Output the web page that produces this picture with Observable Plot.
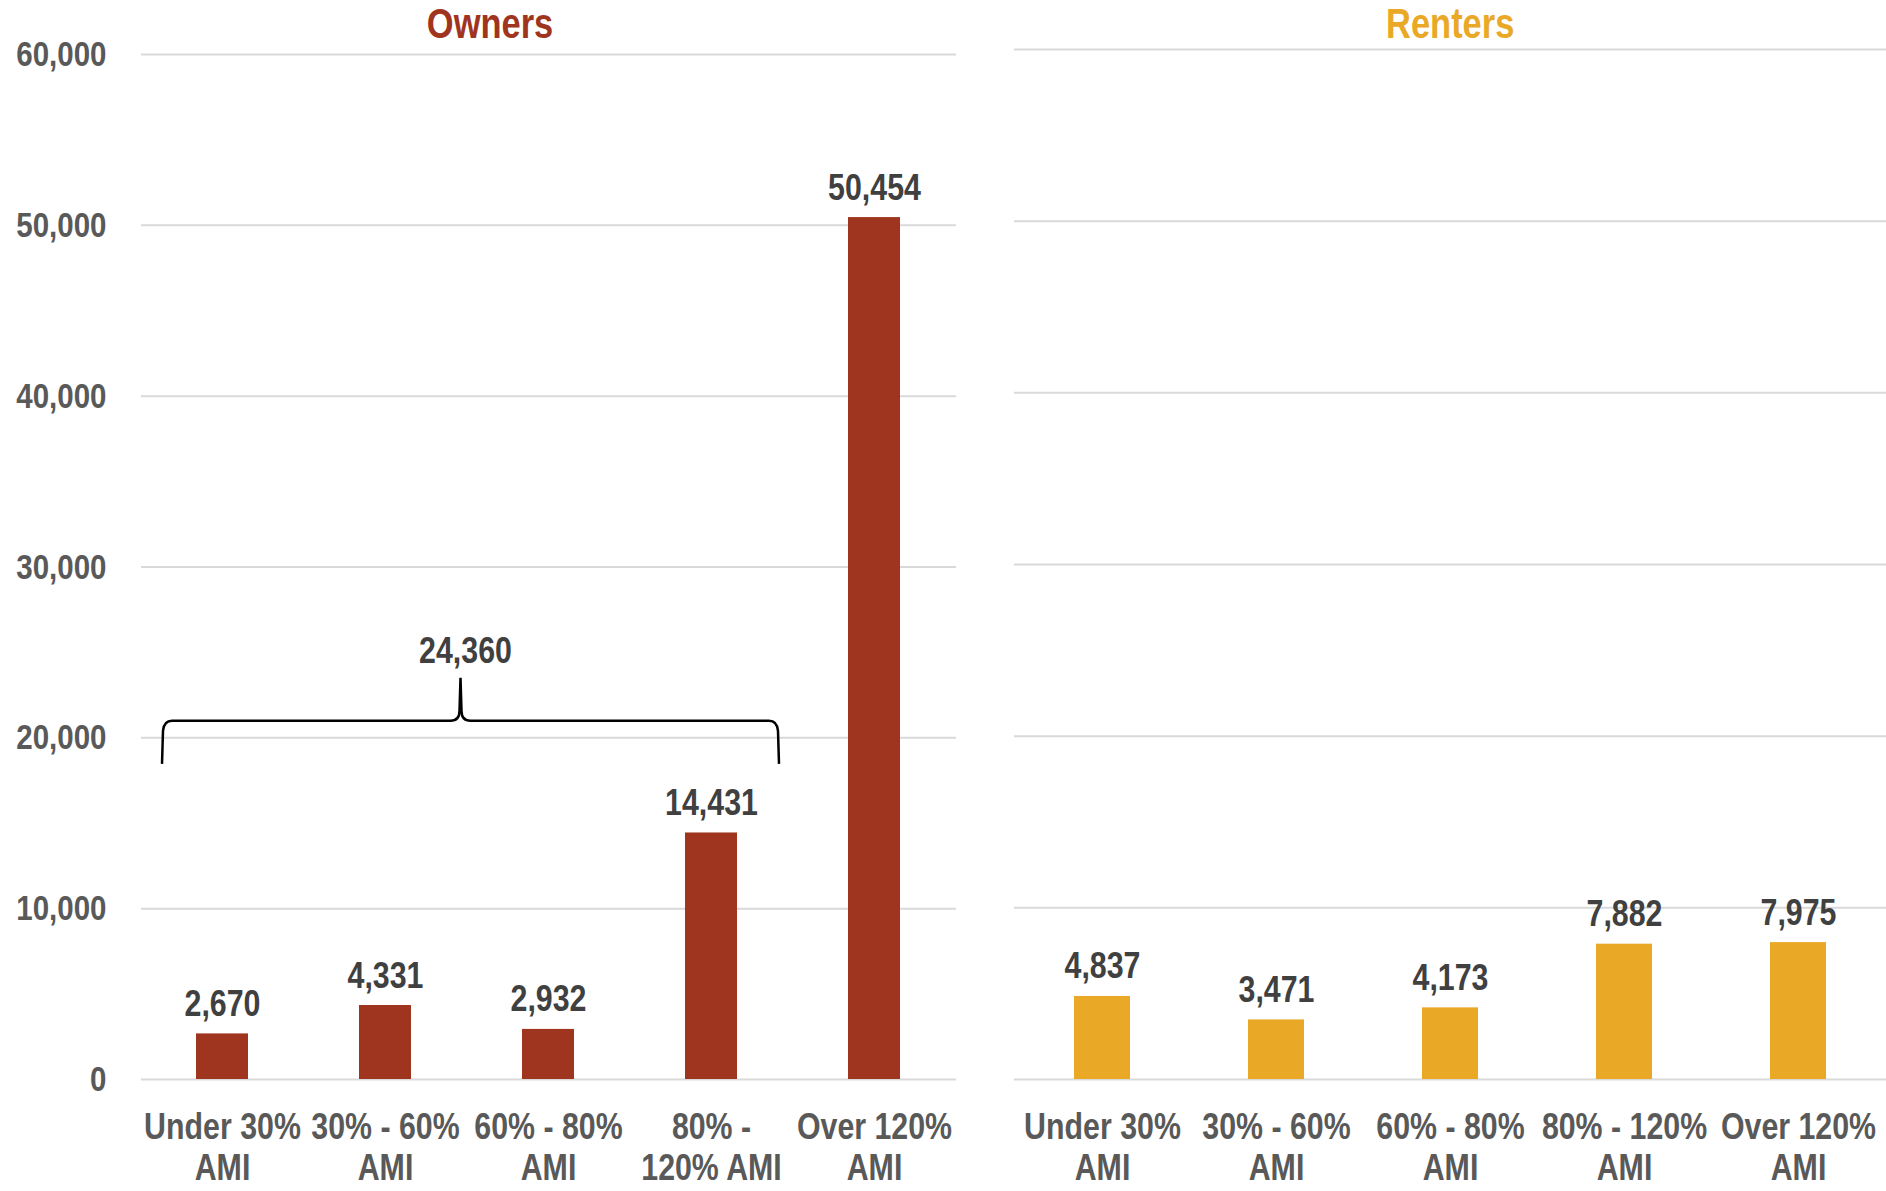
<!DOCTYPE html>
<html>
<head>
<meta charset="utf-8">
<script src="https://cdn.jsdelivr.net/npm/d3@7"></script>
<script src="https://cdn.jsdelivr.net/npm/@observablehq/plot@0.6"></script>
<style>
  html, body { margin: 0; padding: 0; background: #fff; }
  #wrap { position: relative; width: 1886px; height: 1191px; overflow: hidden;
          font-family: "Liberation Sans", Arial, sans-serif; font-weight: bold; }
  .panel { position: absolute; top: 0; }
  .title { position: absolute; top: 0; font-size: 42px; line-height: normal; text-align: center; font-weight: bold; }
  .title span { display: inline-block; transform: scaleX(0.82); transform-origin: center; }
</style>
</head>
<body>
<div id="wrap">
  <div id="owners" class="panel" style="left:0"></div>
  <div id="renters" class="panel" style="left:980px"></div>
  <div class="title" style="left:0;width:980px;color:#A0351F"><span>Owners</span></div>
  <div class="title" style="left:1014px;width:872px;color:#E9A825"><span>Renters</span></div>
</div>
<script>
const categories = ["Under 30% AMI", "30% - 60% AMI", "60% - 80% AMI", "80% - 120% AMI", "Over 120% AMI"];
const ownerValues = [2670, 4331, 2932, 14431, 50454];
const renterValues = [4837, 3471, 4173, 7882, 7975];
const ownerTickLabels = ["Under 30%\nAMI", "30% - 60%\nAMI", "60% - 80%\nAMI", "80% -\n120% AMI", "Over 120%\nAMI"];
const renterTickLabels = ["Under 30%\nAMI", "30% - 60%\nAMI", "60% - 80%\nAMI", "80% - 120%\nAMI", "Over 120%\nAMI"];
const yTicks = [0, 10000, 20000, 30000, 40000, 50000, 60000];
const braceFrom = "Under 30% AMI";
const braceTo = "80% - 120% AMI";
const braceTotal = 24360;

const FONT = '"Liberation Sans", Arial, sans-serif';
const NARROW = 0.82;
const fmt = d3.format(",");

// Emulate a narrow bold face: squeeze each text horizontally about its own anchor.
function narrowTexts(svg) {
  svg.querySelectorAll("text").forEach(t => {
    const xa = t.getAttribute("x");
    const x = xa ? parseFloat(xa) || 0 : 0;
    const tr = t.getAttribute("transform") || "";
    t.setAttribute("transform", `${tr} translate(${x},0) scale(${NARROW},1) translate(${-x},0)`);
  });
  return svg;
}

function makePanel({values, tickLabels, color, width, marginLeft, marginRight, marginTop, showY, brace}) {
  const data = categories.map((c, i) => ({category: c, value: values[i]}));
  const labelOf = new Map(categories.map((c, i) => [c, tickLabels[i]]));
  const marks = [
    Plot.gridY(yTicks, {stroke: "#d9d9d9", strokeOpacity: 1, strokeWidth: 2}),
    Plot.barY(data, {x: "category", y: "value", fill: color}),
    Plot.text(data, {x: "category", y: "value", text: d => fmt(d.value), lineAnchor: "bottom", dy: -18, fill: "#404040", fontSize: 37, fontWeight: "bold"}),
    Plot.axisX({tickSize: 0, tickPadding: 30, fontSize: 37, lineHeight: 1.12, tickFormat: d => labelOf.get(d), fill: "#595959"})
  ];
  if (showY) {
    marks.push(Plot.axisY(yTicks, {tickSize: 0, tickPadding: 35, fontSize: 36, tickFormat: fmt, fill: "#595959"}));
  }
  if (brace) {
    marks.push((index, scales) => {
      const x = scales.x, y = scales.y;
      const bw = typeof x.bandwidth === "function" ? x.bandwidth() : x.bandwidth;
      const xl = x(braceFrom) + bw / 2 - 60;
      const xr = x(braceTo) + bw / 2 + 68;
      const xm = (xl + xr) / 2 - 10;
      const yl = y(braceTotal);
      const yTip = yl + 15, yH = yl + 58, yEnd = yl + 101;
      const g = d3.create("svg:g");
      const r = 10;
      const path = [
        `M${xl},${yEnd}`,
        `L${xl + 1},${yH + r}`,
        `Q${xl + 2},${yH} ${xl + r},${yH}`,
        `L${xm - r},${yH}`,
        `Q${xm - 1},${yH} ${xm - 1},${yH - r}`,
        `L${xm},${yTip}`,
        `L${xm + 1},${yH - r}`,
        `Q${xm + 1},${yH} ${xm + r},${yH}`,
        `L${xr - r},${yH}`,
        `Q${xr - 2},${yH} ${xr - 1},${yH + r}`,
        `L${xr},${yEnd}`
      ].join(" ");
      g.append("path").attr("d", path).attr("fill", "none").attr("stroke", "#000").attr("stroke-width", 2.5);
      g.append("text").attr("x", xm + 5).attr("y", yl).attr("text-anchor", "middle")
        .attr("fill", "#404040").attr("font-size", 37).attr("font-weight", "bold")
        .attr("font-family", FONT).text(fmt(braceTotal));
      return g.node();
    });
  }
  return narrowTexts(Plot.plot({
    width,
    height: 1191,
    marginLeft,
    marginRight,
    marginTop,
    marginBottom: 112,
    style: {fontFamily: FONT, fontWeight: "bold", color: "#595959", background: "transparent"},
    x: {domain: categories, paddingInner: 0.68, paddingOuter: 0.34, label: null},
    y: {domain: [0, 60000], label: null, axis: null},
    marks
  }));
}

document.getElementById("owners").append(makePanel({
  values: ownerValues, tickLabels: ownerTickLabels, color: "#A0351F",
  width: 980, marginLeft: 141, marginRight: 24, marginTop: 54, showY: true, brace: true
}));
document.getElementById("renters").append(makePanel({
  values: renterValues, tickLabels: renterTickLabels, color: "#E9A825",
  width: 906, marginLeft: 34, marginRight: 0, marginTop: 49, showY: false, brace: false
}));
</script>
</body>
</html>
